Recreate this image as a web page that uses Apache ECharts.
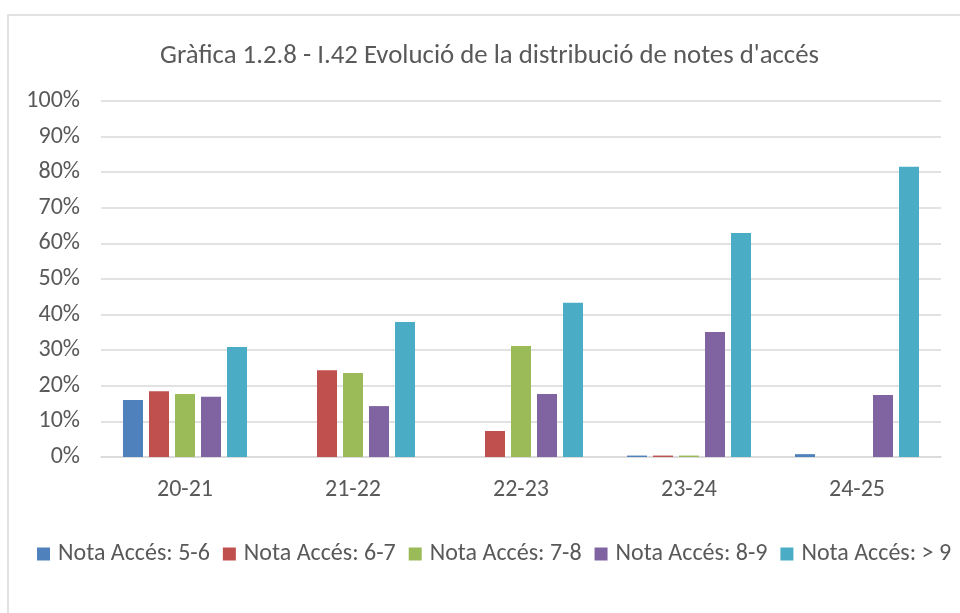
<!DOCTYPE html>
<html>
<head>
<meta charset="utf-8">
<script src="https://cdn.jsdelivr.net/npm/echarts@6/dist/echarts.min.js"></script>
<style>
  html, body { margin: 0; padding: 0; background: #fff; }
  #chart { width: 960px; height: 613px; }
</style>
</head>
<body>
<div id="chart"></div>
<script>
  // cursos
  var categories = ['20-21', '21-22', '22-23', '23-24', '24-25'];
  // percentatges per franja de nota
  var nota56 = [16.0, 0, 0, 0.4, 0.8];
  var nota67 = [18.5, 24.4, 7.3, 0.4, 0];
  var nota78 = [17.7, 23.6, 31.2, 0.4, 0];
  var nota89 = [16.9, 14.3, 17.7, 35.1, 17.4];
  var nota9 = [30.9, 37.9, 43.3, 62.9, 81.5];
  var seriesNames = ['Nota Accés: 5-6', 'Nota Accés: 6-7', 'Nota Accés: 7-8', 'Nota Accés: 8-9', 'Nota Accés: > 9'];
  var colors = ['#4F81BD', '#C0504D', '#9BBB59', '#8064A2', '#4BACC6'];

  var font = 'Calibri, Carlito, Lato, sans-serif';
  var chart = echarts.init(document.getElementById('chart'));

  var seriesData = [nota56, nota67, nota78, nota89, nota9];
  var series = seriesData.map(function (d, i) {
    return {
      name: seriesNames[i],
      type: 'bar',
      data: d,
      barWidth: 20,
      barGap: '30%',
      itemStyle: {color: colors[i]},
      animation: false
    };
  });

  chart.setOption({
    color: colors,
    textStyle: {fontFamily: font},
    title: {
      text: "Gràfica 1.2.8 - I.42 Evolució de la distribució de notes d'accés",
      left: 155,
      top: 38,
      textStyle: {fontSize: 26.8, fontWeight: 'normal', color: '#595959', fontFamily: font}
    },
    graphic: [{
      type: 'rect',
      shape: {x: 8, y: 15, width: 1000, height: 700},
      style: {fill: 'none', stroke: '#d9d9d9', lineWidth: 1.5},
      silent: true
    }],
    grid: {left: 101, right: 19, top: 101, bottom: 156},
    legend: {
      data: seriesNames,
      bottom: 42,
      left: 32,
      itemWidth: 13,
      itemHeight: 13,
      itemGap: 13,
      icon: 'rect',
      textStyle: {fontSize: 24, color: '#595959', fontFamily: font, padding: [0, 0, 0, 3]}
    },
    xAxis: {
      type: 'category',
      data: categories,
      axisTick: {show: false},
      axisLine: {lineStyle: {color: '#d9d9d9', width: 1.5}},
      axisLabel: {fontSize: 24, color: '#595959', margin: 21}
    },
    yAxis: {
      type: 'value',
      min: 0,
      max: 100,
      interval: 10,
      axisLine: {show: false},
      axisTick: {show: false},
      splitLine: {lineStyle: {color: '#d9d9d9', width: 1.5}},
      axisLabel: {fontSize: 24, color: '#595959', margin: 21, formatter: '{value}%'}
    },
    series: series
  });
</script>
</body>
</html>
